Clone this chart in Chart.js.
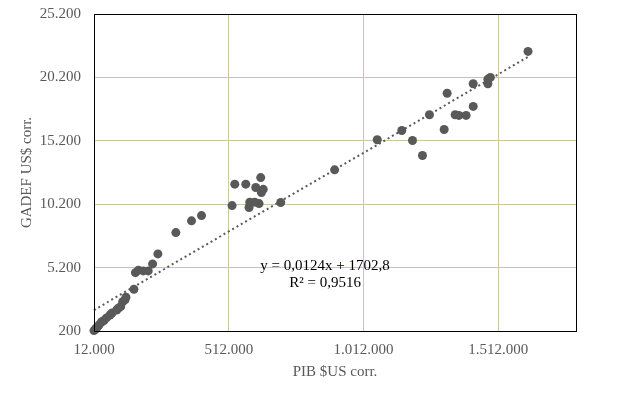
<!DOCTYPE html>
<html>
<head>
<meta charset="utf-8">
<script src="https://cdn.jsdelivr.net/npm/chart.js@4/dist/chart.umd.min.js"></script>
<style>
  html, body { margin:0; padding:0; background:#fff; }
  #wrap { width:622px; height:399px; }
</style>
</head>
<body>
<div id="wrap"><canvas id="pibChart" width="622" height="399"></canvas></div>
<script>
// ── Data ──────────────────────────────────────────────────────
const PIB_X = [
  12000, 17600, 23100, 30500, 39800, 49000, 58300, 71300, 78700, 96100,
  102000, 110900, 118300, 126800, 130500, 160100, 165700, 176800, 194600, 213100,
  229400, 249000, 315700, 373800, 410900, 524200, 534200, 575000, 587200, 589800,
  608300, 612000, 624200, 630500, 633100, 639800, 704600, 904600, 1062700, 1153800,
  1193500, 1230500, 1256400, 1310900, 1322000, 1351600, 1365700, 1392300, 1418700, 1418700,
  1473100, 1473100, 1482400, 1622000
];
const GADEF_Y = [
  230, 360, 480, 670, 910, 1030, 1230, 1460, 1620, 1860,
  1990, 2120, 2510, 2650, 2860, 3490, 4800, 5000, 4940, 4940,
  5490, 6280, 7960, 8890, 9300, 10090, 11780, 11780, 9940, 10360,
  10360, 11520, 10250, 12300, 11120, 11370, 10330, 12910, 15280, 16010,
  15220, 14040, 17250, 16090, 18950, 17250, 17200, 17200, 17910, 19700,
  19700, 20060, 20200, 22250
];

const X_TICKS = [12000, 512000, 1012000, 1512000];
const Y_TICKS = [200, 5200, 10200, 15200, 20200, 25200];
const X_MAX   = 1800000;

// linear trend as printed on the chart
const TREND_SLOPE     = 0.0124;
const TREND_INTERCEPT = 1702.8;
const TREND_LINES     = ['y = 0,0124x + 1702,8', 'R² = 0,9516'];
const LABEL_AT        = { x: 869000, y: 5290 };

// ── helpers ───────────────────────────────────────────────────
const fmt = v => String(v).replace(/\B(?=(\d{3})+(?!\d))/g, '.');
const GREY = '#595959';
const GRID = '#cdc5a3';
const FONT = 'Liberation Serif, Times New Roman, serif';

const points = PIB_X.map((x, i) => ({ x, y: GADEF_Y[i] }));
const xLo = Math.min(...PIB_X), xHi = Math.max(...PIB_X);
const trend = [xLo, xHi].map(x => ({ x, y: TREND_SLOPE * x + TREND_INTERCEPT }));

// frame round the plot + equation text
const framePlugin = {
  id: 'frame',
  afterDatasetsDraw(chart) {
    const { ctx, chartArea: a, scales } = chart;
    ctx.save();
    ctx.strokeStyle = '#000';
    ctx.lineWidth = 1;
    ctx.strokeRect(Math.round(a.left) + 0.5, Math.round(a.top) + 0.5,
                   Math.round(a.right - a.left), Math.round(a.bottom - a.top));
    ctx.fillStyle = '#000';
    ctx.font = '15px ' + FONT;
    ctx.textAlign = 'center';
    ctx.textBaseline = 'middle';
    const cx = scales.x.getPixelForValue(LABEL_AT.x);
    const cy = scales.y.getPixelForValue(LABEL_AT.y);
    TREND_LINES.forEach((t, i) => ctx.fillText(t, cx, cy + i * 17));
    ctx.restore();
  }
};

new Chart(document.getElementById('pibChart'), {
  type: 'scatter',
  data: {
    datasets: [
      { data: trend, showLine: true, borderColor: GREY, borderWidth: 2, borderDash: [2, 3],
        pointRadius: 0, fill: false, order: 0, clip: false },
      { data: points, backgroundColor: GREY, borderWidth: 0, pointRadius: 4.5,
        pointHoverRadius: 4.5, order: 1, clip: false }
    ]
  },
  options: {
    responsive: false, animation: false,
    layout: { padding: { left: 0, right: 46, top: 14, bottom: 0 } },
    plugins: { legend: { display: false }, tooltip: { enabled: false } },
    scales: {
      x: {
        type: 'linear', min: X_TICKS[0], max: X_MAX,
        afterBuildTicks: s => { s.ticks = X_TICKS.map(value => ({ value })); },
        afterFit: s => { s.height = 68; s.paddingLeft = 0; s.paddingRight = 0; },
        grid: { color: GRID, drawTicks: false },
        border: { display: false },
        ticks: { color: GREY, font: { family: FONT, size: 15 }, padding: 10, callback: v => fmt(v), maxRotation: 0 },
        title: { display: true, text: 'PIB $US corr.', color: GREY, font: { family: FONT, size: 15 },
                 padding: { top: 0, bottom: 18 } }
      },
      y: {
        type: 'linear', min: Y_TICKS[0], max: Y_TICKS[Y_TICKS.length - 1],
        afterBuildTicks: s => { s.ticks = Y_TICKS.map(value => ({ value })); },
        afterFit: s => { s.width = 94; s.paddingTop = 0; s.paddingBottom = 0; },
        grid: { color: GRID, drawTicks: false },
        border: { display: false },
        ticks: { color: GREY, font: { family: FONT, size: 15 }, padding: 13, callback: v => fmt(v) },
        title: { display: true, text: 'GADEF US$ corr.', color: GREY, font: { family: FONT, size: 15 },
                 padding: { top: 18, bottom: 0 } }
      }
    }
  },
  plugins: [framePlugin]
});
</script>
</body>
</html>
